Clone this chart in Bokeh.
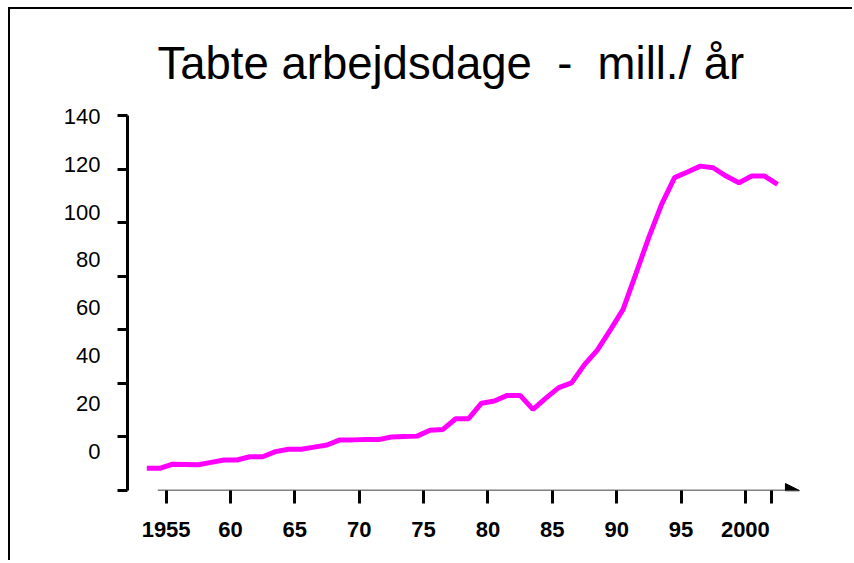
from bokeh.plotting import figure
from bokeh.models import Range1d, LinearAxis, FixedTicker, Arrow, NormalHead
from bokeh.embed import file_html
from bokeh.resources import INLINE

# ---- data ----
title_text = "Tabte arbejdsdage \u00a0-\u00a0 mill./ år"
years = list(range(1953, 2003))
values = [8.3, 8.3, 9.8, 9.7, 9.6, 10.5, 11.4, 11.4, 12.6, 12.6,
          14.5, 15.4, 15.4, 16.2, 17.0, 18.9, 18.9, 19.0, 19.0, 20.0,
          20.2, 20.3, 22.5, 22.8, 26.8, 26.8, 32.6, 33.4, 35.5, 35.5,
          30.3, 34.5, 38.4, 40.2, 47.0, 52.4, 59.9, 67.6, 81.0, 94.5,
          106.9, 116.8, 118.9, 121.1, 120.5, 117.4, 114.9, 117.4, 117.4, 114.3]
x_ticks = [1955, 1960, 1965, 1970, 1975, 1980, 1985, 1990, 1995, 2000]
x_labels = ["1955", "60", "65", "70", "75", "80", "85", "90", "95", "2000"]
x_extra_ticks = [2002]
y_ticks = [0, 20, 40, 60, 80, 100, 120, 140]
y_labels = ["0", "20", "40", "60", "80", "100", "120", "140"]

# category centres (Excel-style category axis)
x_mid = [y + 0.5 for y in years]

p = figure(width=844, height=553, output_backend="svg", toolbar_location=None,
           x_range=Range1d(1952, 2005.06), y_range=Range1d(0, 140),
           min_border_left=117, min_border_right=44, min_border_top=105,
           min_border_bottom=72)
p.styles = {"margin-left": "8px", "margin-top": "7px",
            "border-top": "2px solid black", "border-left": "2px solid black"}
p.outline_line_color = None
p.xgrid.grid_line_color = None
p.ygrid.grid_line_color = None

xa = p.below[0]
ya = p.left[0]

p.title.text = title_text
p.title.align = "left"
p.title.offset = 30
p.title.standoff = 53
p.title.text_font = "Liberation Sans"
p.title.text_font_size = "45.5px"
p.title.text_font_style = "normal"
p.title.text_color = "black"

# x axis
xa.ticker = FixedTicker(ticks=x_ticks, minor_ticks=x_extra_ticks)
xa.major_label_overrides = {t: l for t, l in zip(x_ticks, x_labels)}
xa.axis_line_color = None
xa.major_tick_in = 0
xa.major_tick_out = 13
xa.major_tick_line_width = 3
xa.major_tick_line_color = "black"
xa.minor_tick_in = 0
xa.minor_tick_out = 13
xa.minor_tick_line_width = 3
xa.minor_tick_line_color = "black"
xa.major_label_text_font = "Liberation Sans"
xa.major_label_text_font_style = "bold"
xa.major_label_text_font_size = "22px"
xa.major_label_text_color = "black"
xa.major_label_standoff = 18

p.add_layout(Arrow(end=NormalHead(size=14, fill_color="black", line_color="black",
                                  line_width=1),
                   x_start=1954.35, y_start=0, x_end=2004.2, y_end=0,
                   line_width=1.5, line_color="black"))

# inner y axis: line and ticks only
ya.ticker = FixedTicker(ticks=[], minor_ticks=y_ticks)
ya.axis_line_width = 3
ya.axis_line_color = "black"
ya.major_tick_in = 0
ya.major_tick_out = 10
ya.major_tick_line_color = None
ya.minor_tick_in = 0
ya.minor_tick_out = 10
ya.minor_tick_line_width = 3
ya.minor_tick_line_color = "black"
ya.major_label_standoff = 0

# outer y axis: labels only (as printed, offset from the ticks)
p.extra_y_ranges = {"lab": Range1d(-16.51, 140.42)}
la = LinearAxis(y_range_name="lab", ticker=FixedTicker(ticks=y_ticks),
                major_label_overrides={t: l for t, l in zip(y_ticks, y_labels)})
la.axis_line_color = None
la.major_tick_line_color = None
la.minor_tick_line_color = None
la.major_tick_in = 0
la.major_tick_out = 0
la.major_label_text_font = "Liberation Sans"
la.major_label_text_font_size = "22px"
la.major_label_text_color = "black"
la.major_label_standoff = 17
p.add_layout(la, "left")

p.line(x=x_mid, y=values, line_color="#FF00FF", line_width=5)

open("out.html", "w").write(file_html(p, INLINE))
